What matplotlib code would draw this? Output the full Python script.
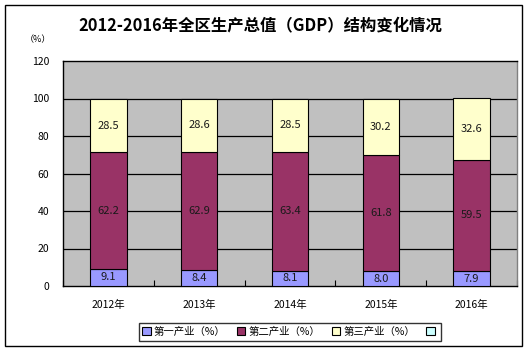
import matplotlib
matplotlib.use("Agg")
import matplotlib.pyplot as plt
from matplotlib.patches import Rectangle
import numpy as np

plt.rcParams['font.family'] = ['Noto Sans CJK SC', 'DejaVu Sans']

years = ['2012年', '2013年', '2014年', '2015年', '2016年']
primary = [9.1, 8.4, 8.1, 8.0, 7.9]
secondary = [62.2, 62.9, 63.4, 61.8, 59.5]
tertiary = [28.5, 28.6, 28.5, 30.2, 32.6]
series_names = ['第一产业（%）', '第二产业（%）', '第三产业（%）', '']
colors = ['#9999FF', '#993366', '#FFFFCC', '#CCFFFF']
yticks = [0, 20, 40, 60, 80, 100, 120]

W, H = 532, 352
fig = plt.figure(figsize=(W / 100, H / 100), dpi=100)
fig.patch.set_facecolor('white')

# outer border
fig.patches.append(Rectangle((5 / W, 1 - 346 / H), (522 - 5) / W, (346 - 5) / H,
                             transform=fig.transFigure, fill=False,
                             edgecolor='black', linewidth=1.0))

L, R, T, B = 63, 517, 61, 286
ax = fig.add_axes([L / W, 1 - B / H, (R - L) / W, (B - T) / H])
ax.set_facecolor('#C0C0C0')

x = np.arange(len(years))
width = 0.4
b1 = ax.bar(x, primary, width, color=colors[0], edgecolor='black', linewidth=0.8, zorder=3)
b2 = ax.bar(x, secondary, width, bottom=primary, color=colors[1], edgecolor='black', linewidth=0.8, zorder=3)
bottom3 = [p + s for p, s in zip(primary, secondary)]
b3 = ax.bar(x, tertiary, width, bottom=bottom3, color=colors[2], edgecolor='black', linewidth=0.8, zorder=3)

for bars, vals, bots in [(b1, primary, [0] * 5), (b2, secondary, primary), (b3, tertiary, bottom3)]:
    for rect, v, b in zip(bars, vals, bots):
        ax.text(rect.get_x() + rect.get_width() / 2, b + v / 2, f'{v:.1f}',
                ha='center', va='center', fontsize=8, color='#1a1a1a', zorder=4)

ax.set_xlim(-0.5, len(years) - 0.5)
ax.set_ylim(0, 120)
ax.set_yticks(yticks)
ax.set_yticklabels([str(t) for t in yticks], fontsize=7.5)
ax.tick_params(axis='y', length=0, pad=10)
for t in yticks[1:-1]:
    ax.axhline(t, color='black', linewidth=0.9, zorder=1)

ax.set_xticks(x)
ax.set_xticklabels(years, fontsize=7.5)
ax.tick_params(axis='x', length=0, pad=10)
ax.set_xticks(np.arange(-0.5, len(years), 1.0), minor=True)
ax.tick_params(axis='x', which='minor', direction='in', length=4, width=0.8)

for s in ax.spines.values():
    s.set_linewidth(1.0)
    s.set_color('black')
ax.spines['right'].set_color('#808080')

fig.text(260 / W, 1 - 25 / H, '2012-2016年全区生产总值（GDP）结构变化情况',
         ha='center', va='center', fontsize=11.8, fontweight='bold')
fig.text(38 / W, 1 - 40 / H, '（%）', ha='center', va='center', fontsize=6.5)

handles = [Rectangle((0, 0), 1, 1, facecolor=c, edgecolor='black', linewidth=0.8) for c in colors]
leg = fig.legend(handles, series_names, loc='center', ncol=4,
                 bbox_to_anchor=(290 / W, 1 - 332 / H), fontsize=7.5,
                 frameon=True, fancybox=False, handlelength=0.8, handleheight=0.8,
                 handletextpad=0.3, columnspacing=1.1, borderpad=0.35, edgecolor='black')
leg.get_frame().set_linewidth(1.0)

fig.savefig('out.png', dpi=100, facecolor='white')
